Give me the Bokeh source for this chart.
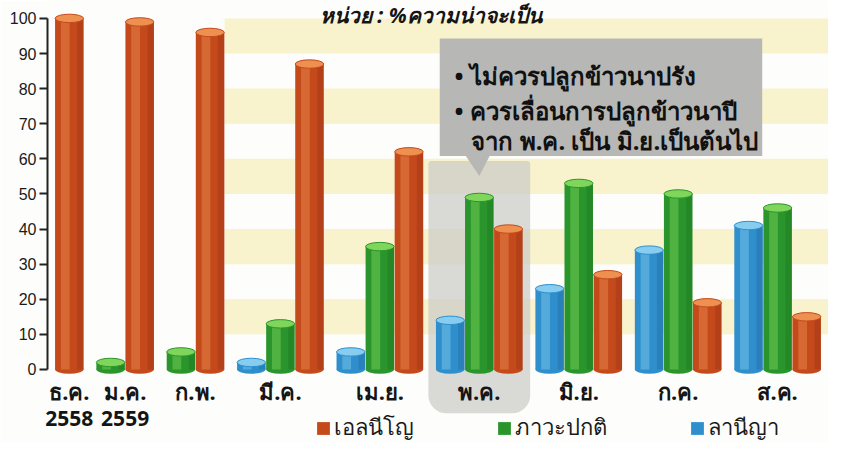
from bokeh.plotting import figure
from bokeh.models import Range1d, FactorRange, ColumnDataSource, FixedTicker, Legend, LegendItem
from bokeh.core.properties import value
from bokeh.embed import file_html
from bokeh.resources import INLINE

# ---------------- data ----------------
months = ["ธ.ค.", "ม.ค.", "ก.พ.", "มี.ค.", "เม.ย.", "พ.ค.", "มิ.ย.", "ก.ค.", "ส.ค."]
years = ["2558", "2559", "", "", "", "", "", "", ""]
series_keys = ["la", "neu", "el"]
series_names = {"la": "ลานีญา", "neu": "ภาวะปกติ", "el": "เอลนีโญ"}
la_nina = [0, 0, 0, 2, 5, 14, 23, 34, 41]
neutral = [0, 2, 5, 13, 35, 49, 53, 50, 46]
el_nino = [100, 99, 96, 87, 62, 40, 27, 19, 15]
y_ticks = list(range(0, 101, 10))
title_text = "หน่วย : %ความน่าจะเป็น"
note_lines = ["• ไม่ควรปลูกข้าวนาปรัง", "• ควรเลื่อนการปลูกข้าวนาปี", "จาก พ.ค. เป็น มิ.ย.เป็นต้นไป"]
highlight_month = "พ.ค."
legend_order = ["el", "neu", "la"]

values = {"la": la_nina, "neu": neutral, "el": el_nino}

# ---------------- styles ----------------
FONT = "Noto Sans"
body = {"la": "#2f8fcc", "neu": "#2a952c", "el": "#c44a1c"}
light = {"la": "#86cdf0", "neu": "#7fd65a", "el": "#ee9050"}
dark = {"la": "#1d5f95", "neu": "#176a1c", "el": "#8a2a10"}
GP = 0.42
RP = 0.25

# factors: only bars that exist
present = {m: [k for k in series_keys if values[k][i] > 0] for i, m in enumerate(months)}
factors = [(m, k) for m in months for k in present[m]]

# synthetic positions (same rule as the FactorRange) for annotations
S = {}
off = 0.0
for m in months:
    for i, k in enumerate(present[m]):
        S[(m, k)] = off + 0.5 + i
    S[m] = sum(S[(m, k)] for k in present[m]) / len(present[m])
    off += len(present[m]) + GP

p = figure(width=828, height=442, output_backend="svg", toolbar_location=None,
           x_range=FactorRange(*factors, group_padding=GP, factor_padding=0,
                               range_padding=RP, range_padding_units="absolute"),
           y_range=Range1d(-20.8, 105.1), x_axis_location=None,
           min_border_left=47, min_border_right=0, min_border_top=0, min_border_bottom=0)
p.background_fill_color = "#fdfdfb"
p.border_fill_color = "#fdfdfb"
p.outline_line_color = None
p.grid.visible = False

# y axis
ax = p.yaxis[0]
ax.ticker = FixedTicker(ticks=y_ticks)
ax.bounds = (0, 100)
ax.axis_line_width = 2
ax.axis_line_color = "#222222"
ax.major_tick_line_color = "#222222"
ax.major_tick_line_width = 2
ax.major_tick_out = 8
ax.major_tick_in = 0
ax.minor_tick_line_color = None
ax.major_label_text_font = "Liberation Sans"
ax.major_label_text_font_size = "16px"
ax.major_label_text_color = "#1a1a1a"
ax.major_label_standoff = 3

# yellow bands
band_left = S[("ก.พ.", "el")] + 0.5
band_right = S[("ส.ค.", "el")] + 3
band_bottoms = [10, 30, 50, 70, 90]
p.rect(x=[(band_left + band_right) / 2] * len(band_bottoms), y=[b + 5 for b in band_bottoms],
       width=band_right - band_left, height=10, fill_color="#f6f0c0", fill_alpha=0.8,
       line_color=None, level="underlay")

# highlight of May
p.vbar(x=[S[highlight_month]], top=59.4, bottom=-12.5, width=3.5, fill_color="#c9c9c6",
       fill_alpha=0.7, line_color=None, border_radius=(3, 3, 18, 18), level="underlay")

# bars (cylinders)
renderers = {}
for k in series_keys:
    xs = [(m, k) for i, m in enumerate(months) if values[k][i] > 0]
    tops = [values[k][i] for i, m in enumerate(months) if values[k][i] > 0]
    src = ColumnDataSource(dict(
        x=xs, top=tops,
        xl=[(m, kk, -0.14) for (m, kk) in xs],
        xd=[(m, kk, 0.38) for (m, kk) in xs],
    ))
    p.ellipse(x="x", y=0, width=0.98, height=2.4, source=src, fill_color=body[k], line_color=None)
    r = p.vbar(x="x", top="top", bottom=0, width=0.98, source=src, fill_color=body[k], line_color=None)
    p.vbar(x="xl", top="top", bottom=0, width=0.3, source=src, fill_color=light[k], fill_alpha=0.45, line_color=None)
    p.vbar(x="xd", top="top", bottom=0, width=0.22, source=src, fill_color=dark[k], fill_alpha=0.3, line_color=None)
    p.ellipse(x="x", y="top", width=0.98, height=2.4, source=src, fill_color=light[k],
              line_color=body[k], line_width=1)
    renderers[k] = r

# month labels
p.text(x=months, y=[-6] * len(months), text=months, text_align="center", text_baseline="middle",
       text_font=value(FONT), text_font_size="22px", text_font_style="bold", text_color="#151515",
       level="overlay")
yr_x = [m for m, y in zip(months, years) if y]
yr_t = [y for y in years if y]
p.text(x=yr_x, y=[-14] * len(yr_x), text=yr_t, text_align="center", text_baseline="middle",
       text_font=value(FONT), text_font_size="21px", text_font_style="bold", text_color="#151515",
       level="overlay")

# title
p.text(x=[S[("เม.ย.", "el")] + 0.75], y=[100.9], text=[title_text], text_align="center",
       text_baseline="middle", text_font=value(FONT), text_font_size="21px",
       text_font_style="bold italic", text_color="#151515", level="overlay")

# callout box
box_left = S[("พ.ค.", "la")] - 0.36
box_right = S[("ส.ค.", "la")] + 0.47
p.rect(x=[(box_left + box_right) / 2], y=[77.55], width=box_right - box_left, height=33.5,
       fill_color="#b7b7b5", line_color=None, level="overlay")
gx = S[("พ.ค.", "neu")]
p.patch(x=[gx - 0.48, gx + 0.37, gx], y=[61.0, 61.0, 55.1], fill_color="#b7b7b5",
        line_color=None, level="overlay")
tx = S[("พ.ค.", "la")] + 0.15
p.text(x=[tx, tx, tx + 0.58], y=[83.8, 73.8, 65.2], text=note_lines, text_align="left",
       text_baseline="middle", text_font=value(FONT), text_font_size="24px",
       text_font_style="bold", text_color="#111111", level="overlay")

# legend
legend = Legend(items=[LegendItem(label=series_names[k], renderers=[renderers[k]]) for k in legend_order],
                orientation="horizontal", location=(268, -3), spacing=82, glyph_width=16,
                glyph_height=16, label_standoff=3, padding=0, margin=0, border_line_alpha=0,
                background_fill_alpha=0, label_text_font=FONT, label_text_font_size="22px",
                label_text_color="#1a1a1a")
p.add_layout(legend)

open("out.html", "w").write(file_html(p, INLINE))
